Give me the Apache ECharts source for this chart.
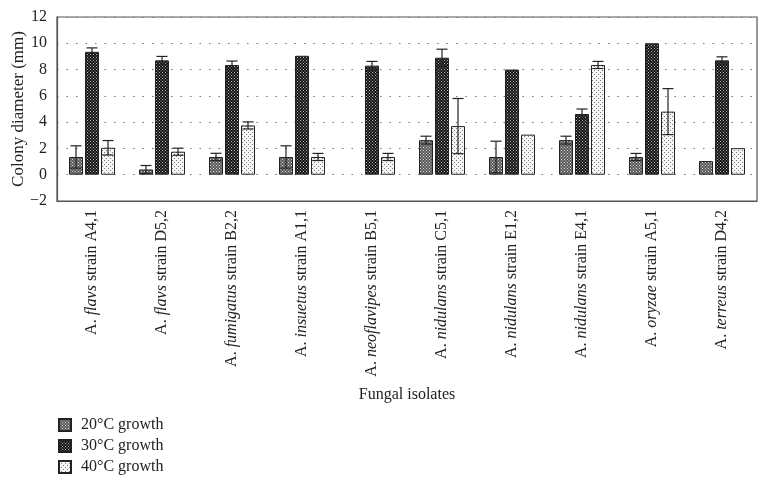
<!DOCTYPE html>
<html><head><meta charset="utf-8">
<script src="https://cdn.jsdelivr.net/npm/echarts@6/dist/echarts.min.js"></script>
<style>html,body{margin:0;padding:0;background:#fff}#c{width:768px;height:487px}</style>
</head><body><div id="c"></div>
<script>
const speciesNames = ['flavs','flavs','fumigatus','insuetus','neoflavipes','nidulans','nidulans','nidulans','oryzae','terreus'];
const strainNames = ['A4,1','D5,2','B2,2','A1,1','B5,1','C5,1','E1,2','E4,1','A5,1','D4,2'];
const seriesNames = ['20°C growth','30°C growth','40°C growth'];
const growth20 = [1.35, 0.4, 1.35, 1.35, null, 2.63, 1.35, 2.63, 1.35, 1.04];
const growth30 = [9.35, 8.7, 8.35, 9.05, 8.3, 8.9, 8.0, 4.62, 10.0, 8.7];
const growth40 = [2.05, 1.75, 3.75, 1.35, 1.35, 3.7, 3.05, 8.35, 4.8, 2.02];
const err20 = [0.85, 0.3, 0.28, 0.85, 0, 0.3, 1.2, 0.3, 0.27, 0];
const err30 = [0.3, 0.3, 0.3, 0, 0.32, 0.65, 0, 0.38, 0, 0.27];
const err40 = [0.55, 0.27, 0.27, 0.27, 0.27, 2.1, 0, 0.27, 1.75, 0];
const yTicks = [-2, 0, 2, 4, 6, 8, 10, 12];

const categories = speciesNames.map((s, i) => s + '|' + strainNames[i]);

function pattern(bg, dot, size) {
  const c = document.createElement('canvas');
  c.width = size; c.height = size;
  const g = c.getContext('2d');
  g.fillStyle = bg; g.fillRect(0, 0, size, size);
  g.fillStyle = dot;
  g.fillRect(0, 0, 1, 1);
  g.fillRect(size / 2, size / 2, 1, 1);
  return { image: c, repeat: 'repeat' };
}
const fills = [
  pattern('#5a5a5a', '#d8d8d8', 3),
  pattern('#111111', '#bbbbbb', 3),
  pattern('#f6f6f6', '#7a7a7a', 4)
];

const values = [growth20, growth30, growth40];
const errs = [err20, err30, err40];
const BW = 14, GAP = 2;
const font = '"Liberation Serif", "DejaVu Serif", serif';
const FS = 16;

const series = [];
values.forEach((vals, si) => {
  series.push({
    name: seriesNames[si], type: 'bar', barWidth: BW, barGap: (GAP / BW * 100) + '%',
    data: vals.map(v => v === null ? '-' : v),
    itemStyle: { color: fills[si], borderColor: '#222', borderWidth: 1 },
    z: 2
  });
});
values.forEach((vals, si) => {
  const data = [];
  vals.forEach((v, i) => { if (v !== null && errs[si][i] > 0) data.push([i, v, errs[si][i]]); });
  series.push({
    type: 'custom', z: 5, silent: true,
    renderItem: function (params, api) {
      const i = api.value(0), v = api.value(1), e = api.value(2);
      const hi = api.coord([i, v + e]);
      const lo = api.coord([i, v - e]);
      const x = hi[0] + (si - 1) * (BW + GAP);
      const cw = 5.5;
      const st = { stroke: '#222', lineWidth: 1.2 };
      return { type: 'group', children: [
        { type: 'line', shape: { x1: x, y1: hi[1], x2: x, y2: lo[1] }, style: st },
        { type: 'line', shape: { x1: x - cw, y1: hi[1], x2: x + cw, y2: hi[1] }, style: st },
        { type: 'line', shape: { x1: x - cw, y1: lo[1], x2: x + cw, y2: lo[1] }, style: st }
      ]};
    },
    data: data
  });
});

const chart = echarts.init(document.getElementById('c'));
chart.setOption({
  backgroundColor: '#fff',
  animation: false,
  textStyle: { fontFamily: font },
  grid: { left: 57, right: 11, top: 17, bottom: 286, show: true, borderColor: '#555', borderWidth: 1.2,
          containLabel: false, outerBoundsMode: 'none' },
  legend: {
    orient: 'vertical', left: 53, top: 412, height: 70, itemWidth: 12, itemHeight: 12, itemGap: 5,
    data: seriesNames, icon: 'rect',
    textStyle: { fontFamily: font, fontSize: FS, lineHeight: 16, color: '#222', padding: [0, 0, 0, 5] }
  },
  xAxis: {
    type: 'category', data: categories,
    name: 'Fungal isolates', nameLocation: 'middle', nameGap: 186, nameMoveOverlap: false,
    nameTextStyle: { fontFamily: font, fontSize: FS, color: '#222' },
    axisLine: { onZero: false, lineStyle: { color: '#555', width: 1.2 } },
    axisTick: { show: false },
    axisLabel: {
      rotate: 90, margin: 9, color: '#222', fontFamily: font, fontSize: FS,
      formatter: function (v) { const p = v.split('|'); return '{n|A. }{i|' + p[0] + '}{n| strain ' + p[1] + '}'; },
      rich: {
        n: { fontFamily: font, fontSize: FS, color: '#222' },
        i: { fontFamily: font, fontSize: FS, color: '#222', fontStyle: 'italic' }
      }
    }
  },
  yAxis: {
    type: 'value', min: yTicks[0], max: yTicks[yTicks.length - 1], interval: 2,
    name: 'Colony diameter (mm)', nameLocation: 'middle', nameGap: 30, nameMoveOverlap: false,
    nameTextStyle: { fontFamily: font, fontSize: 17, color: '#222' },
    axisLine: { show: true, onZero: false, lineStyle: { color: '#555', width: 1.2 } },
    axisTick: { show: false },
    axisLabel: { color: '#222', fontFamily: font, fontSize: FS, margin: 10,
      formatter: v => String(v).replace('-', '\u2212') },
    splitLine: { show: true, lineStyle: { color: '#777', type: [1.5, 8], width: 1.2 } }
  },
  series: series
});
</script></body></html>
